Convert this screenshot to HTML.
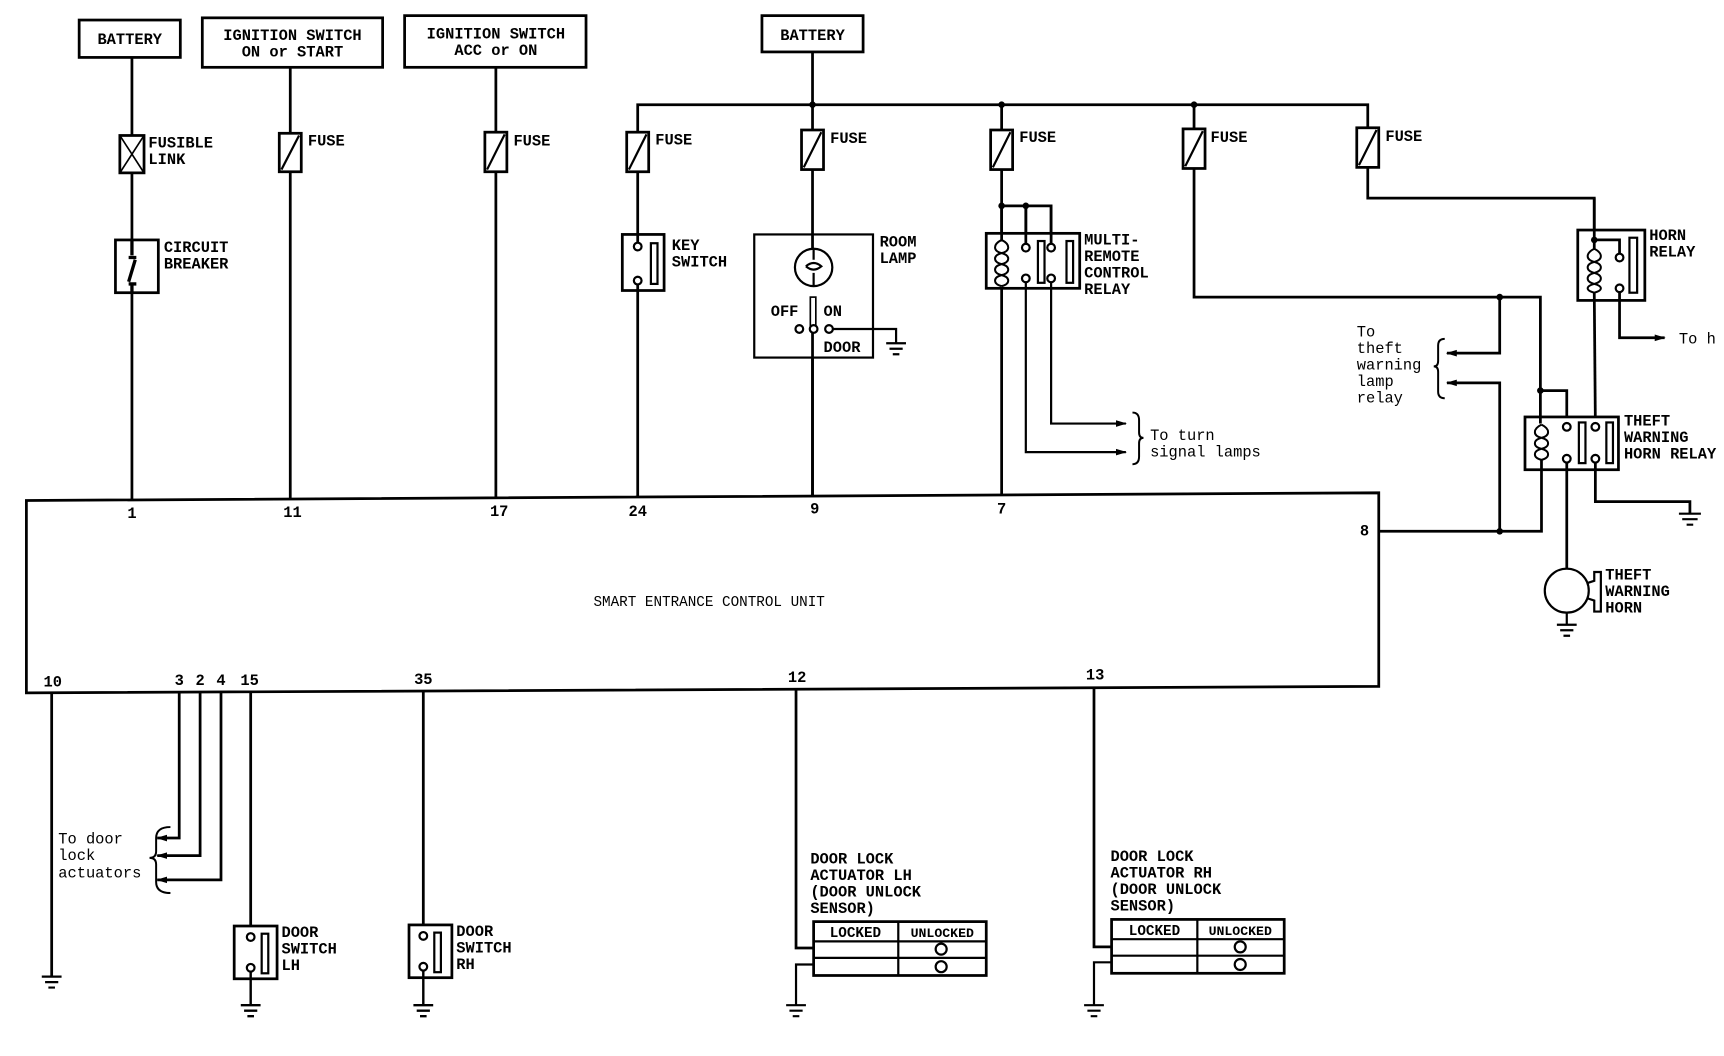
<!DOCTYPE html>
<html><head><meta charset="utf-8"><style>
html,body{margin:0;padding:0;background:#fff;}
svg{display:block}
text{font-family:"Liberation Mono",monospace;font-weight:bold;font-size:14px;fill:#000}
.s{font-weight:normal}
</style></head><body>
<svg width="1724" height="1056" viewBox="0 0 1568 960" xmlns="http://www.w3.org/2000/svg">
<defs>
<marker id="ar" markerWidth="10" markerHeight="8" refX="9" refY="4" orient="auto" markerUnits="userSpaceOnUse"><path d="M0,1 L10,4 L0,7 Z" fill="#000"/></marker>
</defs>
<g stroke="#000" stroke-width="2.5" fill="none">
<!-- top boxes -->
<rect x="72" y="18" width="92" height="34"/>
<rect x="184" y="16" width="164" height="45"/>
<rect x="368" y="14" width="165" height="47"/>
<rect x="693" y="14" width="92" height="33"/>
<!-- CU -->
<path d="M24,455 L1254,448 L1254,624 L24,630 Z"/>
<!-- wire 1 -->
<line x1="120" y1="52" x2="120" y2="454"/>
<rect x="109" y="123" width="22" height="34" fill="#fff"/>
<path d="M109,123 L131,157 M131,123 L109,157" stroke-width="1.5"/>
<rect x="105" y="218" width="39" height="48" fill="#fff"/>
<path d="M120,218 L120,232 M117,234 L124,234 M123,236 L117,256 M117,258 L124,258 M120,258 L120,266" stroke-width="3"/>
<!-- wire 11 -->
<line x1="264" y1="61" x2="264" y2="453"/>
<rect x="254" y="121" width="20" height="35" fill="#fff"/><line x1="256" y1="154" x2="272" y2="123" stroke-width="2"/>
<!-- wire 17 -->
<line x1="451" y1="61" x2="451" y2="452"/>
<rect x="441" y="120" width="20" height="36" fill="#fff"/><line x1="443" y1="154" x2="459" y2="122" stroke-width="2"/>
<!-- battery 2 bus -->
<line x1="739" y1="47" x2="739" y2="95"/>
<path d="M580,452 L580,95 L1244,95 L1244,180 L1450,180 L1450,218"/>
<rect x="570" y="120" width="20" height="36" fill="#fff"/><line x1="572" y1="154" x2="588" y2="122" stroke-width="2"/>
<line x1="739" y1="95" x2="739" y2="451"/>
<rect x="729" y="118" width="20" height="36" fill="#fff"/><line x1="731" y1="152" x2="747" y2="120" stroke-width="2"/>
<line x1="911" y1="95" x2="911" y2="450"/>
<rect x="901" y="118" width="20" height="36" fill="#fff"/><line x1="903" y1="152" x2="919" y2="120" stroke-width="2"/>
<path d="M1086,95 L1086,270 L1401,270 L1401,355 L1425,355 L1425,384"/>
<rect x="1076" y="117" width="20" height="36" fill="#fff"/><line x1="1078" y1="151" x2="1094" y2="119" stroke-width="2"/>
<rect x="1234" y="116" width="20" height="36" fill="#fff"/><line x1="1236" y1="150" x2="1252" y2="118" stroke-width="2"/>
<!-- key switch -->
<rect x="566" y="213" width="38" height="51" fill="#fff"/>
<line x1="580" y1="213" x2="580" y2="221"/><line x1="580" y1="259" x2="580" y2="264"/>
<circle cx="580" cy="224" r="3.5" fill="#fff" stroke-width="2"/>
<circle cx="580" cy="255" r="3.5" fill="#fff" stroke-width="2"/>
<rect x="592" y="221" width="6" height="37" stroke-width="2"/>
<!-- room lamp -->
<rect x="686" y="213" width="108" height="112" fill="#fff" stroke-width="2"/>
<line x1="739" y1="213" x2="739" y2="226"/>
<ellipse cx="740" cy="243" rx="17" ry="17" stroke-width="2" fill="#fff"/>
<path d="M740,226 L740,236 M733,242 Q740,236 747,242 Q740,248 733,242 M740,248 L740,260" stroke-width="2"/>
<rect x="737" y="270" width="5" height="30" stroke-width="1.5"/>
<line x1="739" y1="302" x2="739" y2="450"/>
<circle cx="727" cy="299" r="3.5" fill="#fff" stroke-width="2"/>
<circle cx="740" cy="299" r="3.5" fill="#fff" stroke-width="2"/>
<circle cx="754" cy="299" r="3.5" fill="#fff" stroke-width="2"/>
<path d="M758,299 L815,299 L815,312" stroke-width="2"/>
<path d="M806,312 L824,312 M809,317 L821,317 M812,322 L818,322" stroke-width="2"/>
<!-- multi remote relay -->
<path d="M911,187 L956,187 L956,218 M933,187 L933,220"/>
<rect x="897" y="212" width="85" height="50" fill="#fff"/>
<line x1="911" y1="187" x2="911" y2="218"/>
<path d="M911,218 C903,222 903,228 911,230 C903,232 903,238 911,240 C903,242 903,248 911,250 C903,252 903,258 911,260 M911,218 C919,222 919,228 911,230 C919,232 919,238 911,240 C919,242 919,248 911,250 C919,252 919,258 911,260" stroke-width="1.8"/>
<line x1="933" y1="187" x2="933" y2="222"/><line x1="956" y1="187" x2="956" y2="222"/>
<circle cx="933" cy="225" r="3.5" fill="#fff" stroke-width="2"/>
<circle cx="933" cy="253" r="3.5" fill="#fff" stroke-width="2"/>
<circle cx="956" cy="225" r="3.5" fill="#fff" stroke-width="2"/>
<circle cx="956" cy="253" r="3.5" fill="#fff" stroke-width="2"/>
<rect x="944" y="219" width="6" height="38" stroke-width="2"/>
<rect x="970" y="219" width="6" height="38" stroke-width="2"/>
<path d="M933,257 L933,411 L1024,411" stroke-width="2" marker-end="url(#ar)"/>
<path d="M956,257 L956,385 L1024,385" stroke-width="2" marker-end="url(#ar)"/>
<path d="M1030,375 Q1036,375 1036,382 L1036,393 Q1036,398 1040,398 Q1036,398 1036,403 L1036,415 Q1036,422 1030,422" stroke-width="1.8"/>
<!-- theft lamp arrows -->
<path d="M1364,270 L1364,321 L1316,321" stroke-width="2.5" marker-end="url(#ar)"/>
<path d="M1364,483 L1364,348 L1316,348" stroke-width="2.5" marker-end="url(#ar)"/>
<path d="M1314,308 Q1308,308 1308,314 L1308,328 Q1308,333 1304,333 Q1308,333 1308,338 L1308,356 Q1308,362 1314,362" stroke-width="1.8"/>
<!-- horn relay -->
<rect x="1435" y="209" width="61" height="64" fill="#fff"/>
<path d="M1450,180 L1450,226 M1450,218 L1473,218 L1473,230"/>
<path d="M1450,226 C1442,230 1442,236 1450,238 C1442,240 1442,246 1450,248 C1442,250 1442,256 1450,258 C1442,260 1442,264 1450,266 M1450,226 C1458,230 1458,236 1450,238 C1458,240 1458,246 1450,248 C1458,250 1458,256 1450,258 C1458,260 1458,264 1450,266" stroke-width="1.8"/>
<circle cx="1473" cy="234" r="3.5" fill="#fff" stroke-width="2"/>
<circle cx="1473" cy="262" r="3.5" fill="#fff" stroke-width="2"/>
<rect x="1482" y="216" width="7" height="50" stroke-width="2"/>
<path d="M1450,266 L1451,384"/>
<path d="M1473,266 L1473,307 L1514,307" stroke-width="2.5" marker-end="url(#ar)"/>
<!-- theft warning horn relay -->
<rect x="1387" y="379" width="85" height="48" fill="#fff"/>
<path d="M1401,355 L1401,385"/>
<path d="M1402,386 C1394,390 1394,396 1402,398 C1394,400 1394,406 1402,408 C1394,410 1394,416 1402,418 M1402,386 C1410,390 1410,396 1402,398 C1410,400 1410,406 1402,408 C1410,410 1410,416 1402,418" stroke-width="1.8"/>
<circle cx="1425" cy="388" r="3.5" fill="#fff" stroke-width="2"/>
<circle cx="1425" cy="417" r="3.5" fill="#fff" stroke-width="2"/>
<circle cx="1451" cy="388" r="3.5" fill="#fff" stroke-width="2"/>
<circle cx="1451" cy="417" r="3.5" fill="#fff" stroke-width="2"/>
<rect x="1436" y="384" width="6" height="37" stroke-width="2"/>
<rect x="1461" y="384" width="6" height="37" stroke-width="2"/>
<path d="M1402,418 L1402,483 L1254,483"/>
<path d="M1451,421 L1451,456 L1537,456 L1537,467"/>
<path d="M1527,467 L1547,467 M1530,472 L1544,472 M1534,477 L1540,477" stroke-width="2"/>
<path d="M1425,421 L1425,517"/>
<circle cx="1425" cy="537" r="20" stroke-width="2"/>
<path d="M1444,530 L1450,528 L1450,520 L1456,520 L1456,556 L1450,556 L1450,546 L1444,544" stroke-width="2"/>
<path d="M1425,557 L1425,568 M1416,568 L1434,568 M1419,573 L1431,573 M1422,578 L1428,578" stroke-width="2"/>
<!-- bottom wires -->
<path d="M47,630 L47,888"/>
<path d="M38,888 L56,888 M41,893 L53,893 M44,898 L50,898" stroke-width="2"/>
<path d="M163,630 L163,762 L143,762" stroke-width="2.5" marker-end="url(#ar)"/>
<path d="M182,630 L182,778 L143,778" stroke-width="2.5" marker-end="url(#ar)"/>
<path d="M201,630 L201,800 L143,800" stroke-width="2.5" marker-end="url(#ar)"/>
<path d="M155,752 Q142,752 142,762 L142,774 Q142,780 136,780 Q142,780 142,786 L142,802 Q142,812 155,812" stroke-width="1.8"/>
<!-- door switch LH -->
<line x1="228" y1="630" x2="228" y2="849"/>
<rect x="213" y="842" width="39" height="48" fill="#fff"/>
<circle cx="228" cy="852" r="3.5" fill="#fff" stroke-width="2"/>
<circle cx="228" cy="880" r="3.5" fill="#fff" stroke-width="2"/>
<rect x="238" y="849" width="6" height="36" stroke-width="2"/>
<path d="M228,884 L228,914 M219,914 L237,914 M222,919 L234,919 M225,924 L231,924" stroke-width="2.2"/>
<!-- door switch RH -->
<line x1="385" y1="628" x2="385" y2="848"/>
<rect x="372" y="841" width="39" height="48" fill="#fff"/>
<circle cx="385" cy="851" r="3.5" fill="#fff" stroke-width="2"/>
<circle cx="385" cy="879" r="3.5" fill="#fff" stroke-width="2"/>
<rect x="395" y="848" width="6" height="36" stroke-width="2"/>
<path d="M385,883 L385,914 M376,914 L394,914 M379,919 L391,919 M382,924 L388,924" stroke-width="2.2"/>
<!-- door lock LH -->
<path d="M724,627 L724,862 L740,862"/>
<rect x="740" y="838" width="157" height="49"/>
<path d="M740,856 L897,856 M740,871 L897,871 M817,838 L817,887" stroke-width="2"/>
<circle cx="856" cy="863" r="5" stroke-width="2"/><circle cx="856" cy="879" r="5" stroke-width="2"/>
<path d="M740,877 L724,877 L724,914 M715,914 L733,914 M718,919 L730,919 M721,924 L727,924" stroke-width="2"/>
<!-- door lock RH -->
<path d="M995,625 L995,861 L1011,861"/>
<rect x="1011" y="836" width="157" height="49"/>
<path d="M1011,854 L1168,854 M1011,869 L1168,869 M1089,836 L1089,885" stroke-width="2"/>
<circle cx="1128" cy="861" r="5" stroke-width="2"/><circle cx="1128" cy="877" r="5" stroke-width="2"/>
<path d="M1011,875 L995,875 L995,914 M986,914 L1004,914 M989,919 L1001,919 M992,924 L998,924" stroke-width="2"/>
</g>
<!-- dots -->
<g fill="#000">
<circle cx="739" cy="95" r="3"/><circle cx="911" cy="95" r="3"/><circle cx="1086" cy="95" r="3"/>
<circle cx="911" cy="187" r="3"/><circle cx="933" cy="187" r="3"/>
<circle cx="1364" cy="270" r="3"/><circle cx="1364" cy="483" r="3"/><circle cx="1401" cy="355" r="3"/><circle cx="1450" cy="218" r="3"/>
</g>
<!-- texts -->
<text x="118" y="40" text-anchor="middle">BATTERY</text>
<text x="266" y="36" text-anchor="middle">IGNITION SWITCH</text>
<text x="266" y="51" text-anchor="middle">ON or START</text>
<text x="451" y="35" text-anchor="middle">IGNITION SWITCH</text>
<text x="451" y="50" text-anchor="middle">ACC or ON</text>
<text x="739" y="36" text-anchor="middle">BATTERY</text>
<text x="135" y="134">FUSIBLE</text><text x="135" y="149">LINK</text>
<text x="149" y="229">CIRCUIT</text><text x="149" y="244">BREAKER</text>
<text x="280" y="132">FUSE</text><text x="467" y="132">FUSE</text>
<text x="596" y="131">FUSE</text><text x="755" y="130">FUSE</text><text x="927" y="129">FUSE</text>
<text x="1101" y="129">FUSE</text><text x="1260" y="128">FUSE</text>
<text x="611" y="227">KEY</text><text x="611" y="242">SWITCH</text>
<text x="800" y="224">ROOM</text><text x="800" y="239">LAMP</text>
<text x="701" y="287">OFF</text><text x="749" y="287">ON</text><text x="749" y="320">DOOR</text>
<text x="986" y="222">MULTI-</text><text x="986" y="237">REMOTE</text><text x="986" y="252">CONTROL</text><text x="986" y="267">RELAY</text>
<text class="s" x="1046" y="400">To turn</text><text class="s" x="1046" y="415">signal lamps</text>
<text x="1500" y="218">HORN</text><text x="1500" y="233">RELAY</text>
<text class="s" x="1527" y="312">To h</text>
<text class="s" x="1234" y="306">To</text><text class="s" x="1234" y="321">theft</text><text class="s" x="1234" y="336">warning</text><text class="s" x="1234" y="351">lamp</text><text class="s" x="1234" y="366">relay</text>
<text x="1477" y="387">THEFT</text><text x="1477" y="402">WARNING</text><text x="1477" y="417">HORN RELAY</text>
<text x="1460" y="527">THEFT</text><text x="1460" y="542">WARNING</text><text x="1460" y="557">HORN</text>
<text x="120" y="471" text-anchor="middle">1</text><text x="266" y="470" text-anchor="middle">11</text>
<text x="454" y="469" text-anchor="middle">17</text><text x="580" y="469" text-anchor="middle">24</text>
<text x="741" y="467" text-anchor="middle">9</text><text x="911" y="467" text-anchor="middle">7</text>
<text x="1241" y="487" text-anchor="middle">8</text>
<text x="645" y="551" text-anchor="middle" class="s" style="font-size:13px">SMART ENTRANCE CONTROL UNIT</text>
<text x="48" y="624" text-anchor="middle">10</text>
<text x="163" y="623" text-anchor="middle">3</text><text x="182" y="623" text-anchor="middle">2</text>
<text x="201" y="623" text-anchor="middle">4</text><text x="227" y="623" text-anchor="middle">15</text>
<text x="385" y="622" text-anchor="middle">35</text><text x="725" y="620" text-anchor="middle">12</text>
<text x="996" y="618" text-anchor="middle">13</text>
<text class="s" x="53" y="767">To door</text><text class="s" x="53" y="782">lock</text><text class="s" x="53" y="798">actuators</text>
<text x="256" y="852">DOOR</text><text x="256" y="867">SWITCH</text><text x="256" y="882">LH</text>
<text x="415" y="851">DOOR</text><text x="415" y="866">SWITCH</text><text x="415" y="881">RH</text>
<text x="737" y="785">DOOR LOCK</text><text x="737" y="800">ACTUATOR LH</text><text x="737" y="815">(DOOR UNLOCK</text><text x="737" y="830">SENSOR)</text>
<text x="1010" y="783">DOOR LOCK</text><text x="1010" y="798">ACTUATOR RH</text><text x="1010" y="813">(DOOR UNLOCK</text><text x="1010" y="828">SENSOR)</text>
<text x="778" y="852" text-anchor="middle" style="font-size:13px">LOCKED</text>
<text x="857" y="852" text-anchor="middle" style="font-size:12px">UNLOCKED</text>
<text x="1050" y="850" text-anchor="middle" style="font-size:13px">LOCKED</text>
<text x="1128" y="850" text-anchor="middle" style="font-size:12px">UNLOCKED</text>
</svg>
</body></html>
